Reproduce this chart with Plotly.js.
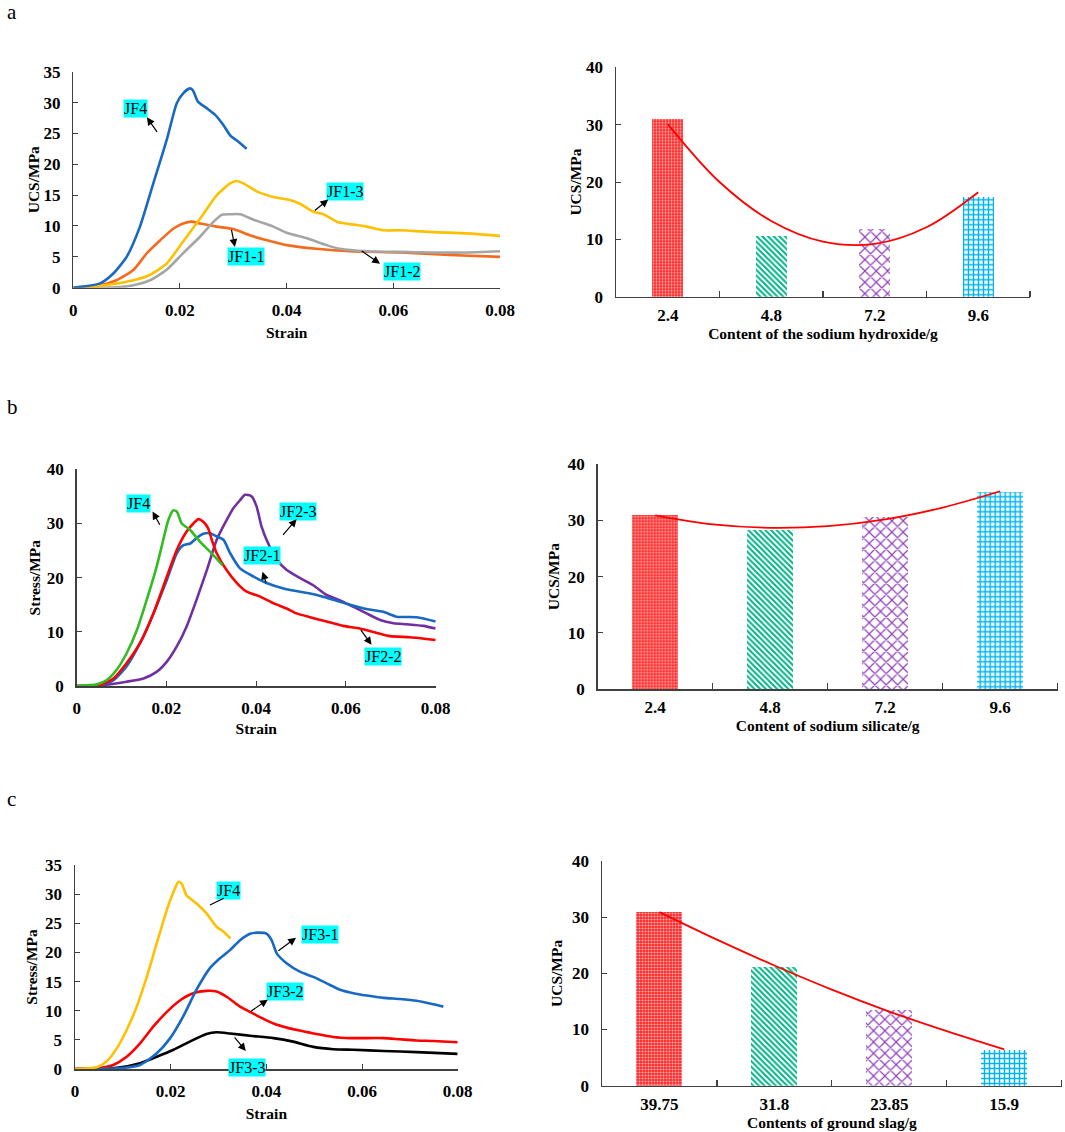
<!DOCTYPE html>
<html>
<head>
<meta charset="utf-8">
<script src="https://cdn.plot.ly/plotly-3.0.1.min.js"></script>
<style>html,body{margin:0;padding:0;background:#fff;}</style>
</head>
<body>
<div id="chart" style="width:1065px;height:1132px;"></div>
<script>
// ---------- Panel a (sodium hydroxide) ----------
const aJF4_x = [0,0.005,0.0075,0.01,0.0125,0.015,0.0175,0.0194,0.0206,0.0218,0.0224,0.0234,0.025,0.0266,0.0281,0.0294,0.0309,0.0325];
const aJF4_y = [0,0.7,2.3,5,9.9,16.9,23.9,29.9,31.5,32.3,32.0,30.1,29.1,28.0,26.4,24.7,23.7,22.5];
const aJF11_x = [0,0.005,0.0081,0.0113,0.0138,0.0163,0.0188,0.0206,0.0222,0.0238,0.0269,0.03,0.0331,0.0363,0.04,0.0456,0.0519,0.0613,0.0706,0.08];
const aJF11_y = [0,0.4,1.2,2.9,5.6,7.7,9.6,10.4,10.7,10.4,9.9,9.5,8.5,7.7,6.9,6.3,5.9,5.7,5.3,5.0];
const aJF13_x = [0,0.005,0.0113,0.0144,0.0175,0.0206,0.0238,0.0269,0.0294,0.0306,0.0319,0.0344,0.0375,0.0406,0.0425,0.045,0.0469,0.0494,0.0519,0.055,0.0581,0.0613,0.0675,0.0738,0.08];
const aJF13_y = [0,0.3,1.2,2.1,3.9,7.5,11.2,15.0,16.9,17.3,16.9,15.6,14.7,14.2,13.6,12.3,11.9,10.7,10.3,9.9,9.3,9.3,9.0,8.8,8.4];
const aJF12_x = [0,0.0081,0.0113,0.0144,0.0175,0.0206,0.0238,0.0263,0.0278,0.0294,0.0313,0.0338,0.0375,0.04,0.0438,0.0475,0.05,0.055,0.0613,0.0675,0.0738,0.08];
const aJF12_y = [0,0.05,0.4,1.2,2.9,5.6,8.3,10.7,11.8,11.9,11.9,11.0,9.9,8.9,8.0,6.9,6.3,5.9,5.8,5.7,5.7,5.9];
const aCats = ["2.4","4.8","7.2","9.6"];
const aUCS = [31.0,10.6,11.8,17.3];
const aTrend_x = [1,1.5,2,2.5,3,3.5,4];
const aTrend_y = [30.1,20.0,13.2,9.6,9.2,12.1,18.2];

// ---------- Panel b (sodium silicate) ----------
const bJF4_x = [0,0.0045,0.0067,0.0089,0.0111,0.0134,0.0156,0.0178,0.0193,0.0204,0.0215,0.0223,0.0234,0.0253,0.0275,0.0297,0.0325];
const bJF4_y = [0,0.3,1.1,3.0,6.0,10.3,15.9,22.0,27.0,30.6,32.4,32.2,30.0,28.8,26.6,24.8,22.3];
const bJF21_x = [0,0.0052,0.0082,0.0111,0.0141,0.0171,0.0201,0.0223,0.0238,0.0253,0.0267,0.0282,0.0297,0.0312,0.0327,0.0342,0.0364,0.0394,0.0423,0.0461,0.0498,0.0535,0.0572,0.0609,0.0646,0.0683,0.0713,0.0758,0.08];
const bJF21_y = [0,0.2,1.1,3.6,7.9,13.4,19.6,24.5,26.0,26.3,27.3,28.1,28.2,27.6,27.0,24.5,21.7,20.2,19.0,18.0,17.4,16.8,15.9,15.0,14.2,13.7,12.8,12.7,11.9];
const bJF22_x = [0,0.0052,0.0082,0.0111,0.0141,0.0171,0.0201,0.0223,0.0245,0.026,0.0271,0.0282,0.0293,0.0301,0.0312,0.0334,0.0357,0.0379,0.0409,0.0438,0.0468,0.049,0.052,0.0557,0.0594,0.0631,0.0669,0.0698,0.0743,0.08];
const bJF22_y = [0,0.2,1.4,4.2,7.9,13.4,20.2,25.1,28.5,30.0,30.8,30.3,29.1,27.0,24.5,21.4,19.0,17.4,16.5,15.3,14.3,13.4,12.7,11.9,11.1,10.6,9.8,9.2,9.0,8.5];
const bJF23_x = [0,0.0052,0.0111,0.0149,0.0178,0.0201,0.0223,0.0245,0.0267,0.029,0.0312,0.0334,0.0349,0.0364,0.0375,0.039,0.0401,0.0412,0.0423,0.0446,0.0468,0.0498,0.0527,0.0557,0.0587,0.0617,0.0646,0.0676,0.0706,0.0735,0.0773,0.08];
const bJF23_y = [0,0.1,0.8,1.4,2.6,4.5,7.3,11.0,15.9,21.4,27.0,30.6,32.8,34.3,35.3,35.0,33.1,29.4,27.0,23.3,21.4,19.9,18.6,16.8,15.8,14.6,13.4,12.2,11.6,11.4,11.1,10.6];
const bCats = ["2.4","4.8","7.2","9.6"];
const bUCS = [30.9,28.3,30.6,35.1];
const bTrend_x = [1,1.5,2,2.5,3,3.5,4];
const bTrend_y = [30.9,29.3,28.7,29.0,30.2,32.3,35.2];

// ---------- Panel c (ground slag) ----------
const cJF4_x = [0,0.0045,0.0066,0.0087,0.0108,0.0129,0.015,0.0171,0.0192,0.0206,0.0216,0.0223,0.0233,0.0254,0.0275,0.0296,0.031,0.0325];
const cJF4_y = [0,0.3,1.3,3.5,6.7,10.7,15.8,21.6,27.3,30.4,32.1,31.8,29.8,28.4,26.7,24.4,23.6,22.4];
const cJF31_x = [0,0.0087,0.0136,0.0171,0.0199,0.0226,0.0254,0.0282,0.0303,0.0324,0.0345,0.0366,0.0383,0.0401,0.0411,0.0422,0.0443,0.047,0.0498,0.0526,0.0554,0.0582,0.061,0.0645,0.0679,0.0714,0.0749,0.077];
const cJF31_y = [0,0.1,0.7,2.7,5.3,9.0,13.6,17.3,19.0,20.4,22.1,23.2,23.4,23.2,22.1,19.8,18.1,16.7,15.8,14.7,13.6,13.0,12.6,12.2,12.0,11.7,11.1,10.7];
const cJF32_x = [0,0.0052,0.008,0.0108,0.0136,0.0164,0.0192,0.022,0.0247,0.0275,0.0296,0.0317,0.0345,0.0373,0.0394,0.0415,0.0443,0.047,0.0505,0.054,0.0575,0.0645,0.0679,0.0714,0.0749,0.08];
const cJF32_y = [0,0.2,0.7,2.1,4.4,7.3,9.8,11.8,13.0,13.4,13.3,12.4,10.7,9.5,8.6,7.8,7.1,6.6,6.0,5.5,5.3,5.3,5.1,4.9,4.8,4.6];
const cJF33_x = [0,0.0087,0.0136,0.0171,0.0206,0.024,0.0275,0.0296,0.0324,0.0366,0.0415,0.0456,0.0498,0.054,0.0582,0.0645,0.0714,0.08];
const cJF33_y = [0,0.2,1.0,2.1,3.3,4.7,6.0,6.3,6.1,5.7,5.3,4.7,3.8,3.4,3.3,3.1,2.9,2.6];
const cCats = ["39.75","31.8","23.85","15.9"];
const cUCS = [31.0,21.1,13.5,6.35];
const cTrend_x = [1,1.5,2,2.5,3,3.5,4];
const cTrend_y = [30.9,26.0,21.4,17.1,13.2,9.7,6.45];

const catPos = [1,2,3,4];

// ---------- styling ----------
const FONT = "Liberation Serif";
const AX = "#404040";
const tickFont = {family: FONT, size: 17, color: "#000", weight: "bold"};
const titleFont = {family: FONT, size: 15.5, color: "#000", weight: "bold"};
const C = {blue:"#1769C4", orange:"#F46B1E", gray:"#A5A5A5", yellow:"#FFC000",
           green:"#33BB22", red:"#FF0000", purple:"#7030A0", black:"#000000"};

function line(x, y, color, xa, ya) {
  return {type:"scatter", mode:"lines", x:x, y:y, xaxis:xa, yaxis:ya,
          line:{color:color, width:2.6, shape:"spline", smoothing:0.6},
          hoverinfo:"skip", showlegend:false};
}
const barPatterns = [
  {shape:".", fgcolor:"#FFB8B8", bgcolor:"#FF2A2A", size:3, solidity:0.35, fillmode:"replace"},
  {shape:"\\", fgcolor:"#00B386", bgcolor:"#FFFFFF", size:4, solidity:0.5, fillmode:"replace"},
  {shape:"x", fgcolor:"#9040C0", bgcolor:"#FFFFFF", size:8, solidity:0.28, fillmode:"replace"},
  {shape:"+", fgcolor:"#00B4F0", bgcolor:"#FFFFFF", size:5, solidity:0.5, fillmode:"replace"}
];
function bars(vals, width, xa, ya) {
  return catPos.map((p, i) => ({
    type:"bar", x:[p], y:[vals[i]], xaxis:xa, yaxis:ya, width:width,
    marker:{color:"#FFFFFF", line:{width:0}, pattern:barPatterns[i]},
    hoverinfo:"skip", showlegend:false
  }));
}
function trend(x, y, xa, ya) {
  return {type:"scatter", mode:"lines", x:x, y:y, xaxis:xa, yaxis:ya,
          line:{color:"#FF0000", width:1.8, shape:"spline", smoothing:1},
          hoverinfo:"skip", showlegend:false};
}

const data = [
  line(aJF11_x, aJF11_y, C.orange, "x", "y"),
  line(aJF12_x, aJF12_y, C.gray, "x", "y"),
  line(aJF13_x, aJF13_y, C.yellow, "x", "y"),
  line(aJF4_x, aJF4_y, C.blue, "x", "y"),
  ...bars(aUCS, 0.3, "x2", "y2"),
  trend(aTrend_x, aTrend_y, "x2", "y2"),
  line(bJF23_x, bJF23_y, C.purple, "x3", "y3"),
  line(bJF21_x, bJF21_y, C.blue, "x3", "y3"),
  line(bJF22_x, bJF22_y, C.red, "x3", "y3"),
  line(bJF4_x, bJF4_y, C.green, "x3", "y3"),
  ...bars(bUCS, 0.4, "x4", "y4"),
  trend(bTrend_x, bTrend_y, "x4", "y4"),
  line(cJF33_x, cJF33_y, C.black, "x5", "y5"),
  line(cJF32_x, cJF32_y, C.red, "x5", "y5"),
  line(cJF31_x, cJF31_y, C.blue, "x5", "y5"),
  line(cJF4_x, cJF4_y, C.yellow, "x5", "y5"),
  ...bars(cUCS, 0.4, "x6", "y6"),
  trend(cTrend_x, cTrend_y, "x6", "y6")
];

const W = 1065, H = 1132;
const dx = (p1, p2) => [p1 / W, p2 / W];
const dy = (top, bottom) => [1 - bottom / H, 1 - top / H];

function lineX(domain, anchor, title, ts) {
  return {domain:domain, anchor:anchor, range:[0,0.08], tickvals:[0,0.02,0.04,0.06,0.08],
          ticktext:["0","0.02","0.04","0.06","0.08"],
          showline:true, linecolor:AX, linewidth:1.5, ticks:"inside", ticklen:5, tickcolor:AX,
          showgrid:false, zeroline:false, tickfont:tickFont, ticklabelstandoff:6,
          title:{text:title, font:titleFont, standoff:ts}, fixedrange:true};
}
function barX(domain, anchor, cats, title, ts, ls) {
  return {domain:domain, anchor:anchor, range:[0.5,4.5], tickmode:"array", tickvals:catPos, ticktext:cats,
          ticks:"", showline:true, linecolor:AX, linewidth:1.5, showgrid:false, zeroline:false,
          minor:{tickmode:"array", tickvals:[1.5,2.5,3.5,4.5], ticks:"inside", ticklen:6, tickcolor:AX, tickwidth:1.2, showgrid:false},
          tickfont:tickFont, ticklabelstandoff:ls, title:{text:title, font:titleFont, standoff:ts}, fixedrange:true};
}
function yAx(domain, anchor, range, dtick, title, standoff) {
  return {domain:domain, anchor:anchor, range:range, dtick:dtick, tick0:0,
          showline:true, linecolor:AX, linewidth:1.5, ticks:"inside", ticklen:5, tickcolor:AX,
          showgrid:false, zeroline:false, tickfont:tickFont, ticklabelstandoff:8,
          title:{text:title, font:titleFont, standoff:standoff}, fixedrange:true};
}

// label + arrow helpers (arrow tail near the curve, head toward label)
const labFont = {family: FONT, size: 16, color: "#000"};
function lab(text, x, y, xa, ya) {
  return {text:text, x:x, y:y, xref:xa, yref:ya, showarrow:false, bgcolor:"#00FFFF",
          font:labFont, borderpad:0};
}
function arr(hx, hy, tx, ty, xa, ya, head) {
  return {text:"", x:hx, y:hy, ax:tx, ay:ty, xref:xa, yref:ya, axref:xa, ayref:ya,
          showarrow:true, arrowhead:head === undefined ? 2 : head, arrowsize:1.3, arrowwidth:1.2,
          arrowcolor:"#000", standoff:0, startstandoff:0};
}
function panelLabel(t, py) {
  return {text:t, x:5/W, y:1 - py/H, xref:"paper", yref:"paper", xanchor:"left", yanchor:"middle",
          showarrow:false, font:{family:FONT, size:21, color:"#000"}};
}

const annotations = [
  panelLabel("a", 12), panelLabel("b", 407), panelLabel("c", 799),
  // panel a
  lab("JF4", 0.0116, 29.1, "x", "y"), arr(0.0138, 27.6, 0.0159, 25.0, "x", "y"),
  lab("JF1-3", 0.0509, 15.6, "x", "y"), arr(0.0478, 14.3, 0.045, 12.3, "x", "y"),
  lab("JF1-1", 0.0324, 5.0, "x", "y"), arr(0.0303, 6.6, 0.0296, 9.6, "x", "y"),
  lab("JF1-2", 0.0616, 2.6, "x", "y"), arr(0.0575, 3.9, 0.0538, 6.1, "x", "y"),
  // panel b
  lab("JF4", 0.0137, 33.7, "x3", "y3"), arr(0.0169, 32.2, 0.0187, 29.5, "x3", "y3"),
  lab("JF2-3", 0.0494, 32.2, "x3", "y3"), arr(0.049, 30.8, 0.0457, 27.6, "x3", "y3"),
  lab("JF2-1", 0.0414, 24.0, "x3", "y3"), arr(0.0414, 21.1, 0.0423, 18.8, "x3", "y3"),
  lab("JF2-2", 0.0683, 5.4, "x3", "y3"), arr(0.0657, 7.6, 0.0631, 10.6, "x3", "y3"),
  // panel c
  lab("JF4", 0.0321, 30.7, "x5", "y5"), arr(0.0311, 29.3, 0.0279, 28.0, "x5", "y5", 0),
  lab("JF3-1", 0.0512, 23.0, "x5", "y5"), arr(0.0462, 22.5, 0.0422, 20.1, "x5", "y5"),
  lab("JF3-2", 0.0439, 13.3, "x5", "y5"), arr(0.0403, 11.9, 0.0364, 9.7, "x5", "y5"),
  lab("JF3-3", 0.0359, 0.3, "x5", "y5"), arr(0.0357, 3.1, 0.0331, 5.7, "x5", "y5")
];

const layout = {
  width: W, height: H, margin:{l:0, r:0, t:0, b:0}, paper_bgcolor:"#fff", plot_bgcolor:"rgba(0,0,0,0)",
  showlegend:false, bargap:0,
  font:{family:FONT, color:"#000"},
  xaxis: lineX(dx(73.3, 500), "y", "Strain", 8),
  yaxis: yAx(dy(71.7, 287.7), "x", [0,35], 5, "UCS/MPa", 0),
  xaxis2: barX(dx(616, 1030), "y2", aCats, "Content of the sodium hydroxide/g", 0, 2),
  yaxis2: yAx(dy(67.3, 296.7), "x2", [0,40], 10, "UCS/MPa", 0),
  xaxis3: lineX(dx(76.7, 435.7), "y3", "Strain", 6),
  yaxis3: yAx(dy(469.3, 686), "x3", [0,40], 10, "Stress/MPa", 2),
  xaxis4: barX(dx(597.7, 1057.7), "y4", bCats, "Content of sodium silicate/g", 0, 2),
  yaxis4: yAx(dy(464.3, 689), "x4", [0,40], 10, "UCS/MPa", 4),
  xaxis5: lineX(dx(75, 457.7), "y5", "Strain", 8),
  yaxis5: yAx(dy(865, 1069), "x5", [0,35], 5, "Stress/MPa", 3),
  xaxis6: barX(dx(602, 1061.7), "y6", cCats, "Contents of ground slag/g", 1, 2),
  yaxis6: yAx(dy(861, 1085.7), "x6", [0,40], 10, "UCS/MPa", 5),
  annotations: annotations
};

Plotly.newPlot("chart", data, layout, {staticPlot:true, displayModeBar:false});
</script>
</body>
</html>
